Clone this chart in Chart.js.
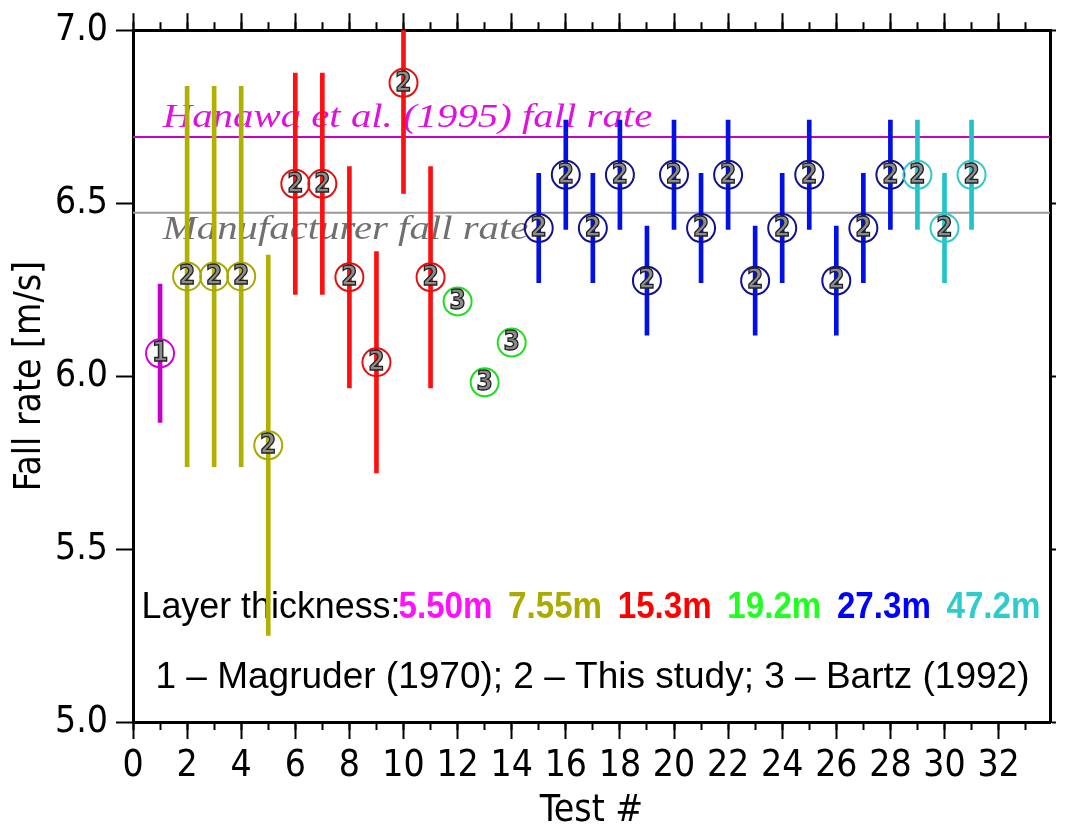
<!DOCTYPE html>
<html>
<head>
<meta charset="utf-8">
<script src="https://cdn.jsdelivr.net/npm/chart.js@4.4.0/dist/chart.umd.min.js"></script>
<style>
  html, body { margin: 0; padding: 0; background: #fff; }
  #wrap { width: 1066px; height: 831px; }
</style>
</head>
<body>
<div id="wrap"><canvas id="fallChart" width="1066" height="831"></canvas></div>
<script>
// Fall rate per test [m/s] with half-length of its error bar
const tests = [1, 2, 3, 4, 5, 6, 7, 8, 9, 10, 11, 12, 13, 14, 15, 16, 17, 18, 19, 20, 21, 22, 23, 24, 25, 26, 27, 28, 29, 30, 31];
const fallRate = [6.066, 6.288, 6.288, 6.288, 5.80, 6.556, 6.556, 6.286, 6.040, 6.848, 6.286, 6.216, 5.982, 6.097,
                  6.428, 6.582, 6.428, 6.582, 6.276, 6.582, 6.428, 6.582, 6.276, 6.428, 6.582, 6.276, 6.428, 6.582,
                  6.582, 6.428, 6.582];
const rateError = [0.20, 0.55, 0.55, 0.55, 0.55, 0.32, 0.32, 0.32, 0.32, 0.32, 0.32, 0, 0, 0,
                   0.158, 0.158, 0.158, 0.158, 0.158, 0.158, 0.158, 0.158, 0.158, 0.158, 0.158, 0.158, 0.158, 0.158,
                   0.158, 0.158, 0.158];
// 1 - Magruder (1970), 2 - this study, 3 - Bartz (1992)
const source = [1, 2, 2, 2, 2, 2, 2, 2, 2, 2, 2, 3, 3, 3, 2, 2, 2, 2, 2, 2, 2, 2, 2, 2, 2, 2, 2, 2, 2, 2, 2];
// layer thickness group of each test
const layerIndex = [0, 1, 1, 1, 1, 2, 2, 2, 2, 2, 2, 3, 3, 3, 4, 4, 4, 4, 4, 4, 4, 4, 4, 4, 4, 4, 4, 4, 5, 5, 5];
const layerThickness = ['5.50m', '7.55m', '15.3m', '19.2m', '27.3m', '47.2m'];
const hanawaRate = 6.691;
const manufacturerRate = 6.472;
const sourceNote = '1 \u2013 Magruder (1970); 2 \u2013 This study; 3 \u2013 Bartz (1992)';

const SANS = "'Liberation Sans Narrow', 'DejaVu Sans Condensed', 'Liberation Sans', sans-serif";
const KEY_SANS = "'Liberation Sans', Arial, sans-serif";
const SERIF = "'Liberation Serif', 'DejaVu Serif', serif";
const barColors = ['#c400cc', '#b0b000', '#ff1010', '#10d010', '#0010e6', '#20c4c8'];
const ringColors = ['#d400dc', '#a8a800', '#e41010', '#20dd20', '#12128f', '#30c8c8'];
const labelColors = ['#ff10ff', '#aaaa00', '#ff0000', '#20ff20', '#0000ff', '#30cccc'];

const withBar = tests.map((t, i) => i).filter(i => rateError[i] > 0);
const errorBars = withBar.map(i => ({ x: tests[i], y: [fallRate[i] - rateError[i], fallRate[i] + rateError[i]] }));
const points = tests.map((t, i) => ({ x: tests[i], y: fallRate[i] }));

const xMax = 33.9;
const fontBig = { family: SANS, size: 37 };

// italic serif captions are wider than the font's natural width
function stretchedText(ctx, text, x, y, color, sx) {
  ctx.save();
  ctx.translate(x, y);
  ctx.scale(sx, 1);
  ctx.font = `italic 34px ${SERIF}`;
  ctx.fillStyle = color;
  ctx.textAlign = 'left';
  ctx.textBaseline = 'alphabetic';
  ctx.fillText(text, 0, 0);
  ctx.restore();
}

// draw text squeezed horizontally into a given width (narrow sans look)
function fitText(ctx, text, x, y, width, font, color) {
  ctx.save();
  ctx.font = font;
  const w = ctx.measureText(text).width;
  ctx.translate(x, y);
  ctx.scale(width / w, 1);
  ctx.fillStyle = color;
  ctx.textAlign = 'left';
  ctx.textBaseline = 'alphabetic';
  ctx.fillText(text, 0, 0);
  ctx.restore();
}

const notes = {
  id: 'notes',
  beforeDatasetsDraw(chart) {
    const { ctx, chartArea, scales: { x, y } } = chart;
    const left = x.getPixelForValue(1.1);
    stretchedText(ctx, 'Hanawa et al. (1995) fall rate', left, y.getPixelForValue(hanawaRate) - 10, '#e010e0', 1.2);
    stretchedText(ctx, 'Manufacturer fall rate', left, y.getPixelForValue(manufacturerRate) + 26, '#707070', 1.2);

    // layer thickness key and source list
    const mid = (chartArea.left + chartArea.right) / 2;
    const row1 = chartArea.bottom - 104;
    const start = mid - 450;
    fitText(ctx, 'Layer thickness:', start, row1, 259, `37px ${KEY_SANS}`, '#000');
    layerThickness.forEach((s, k) => {
      fitText(ctx, s, start + 257 + k * 109.6, row1, 94, `bold 37px ${KEY_SANS}`, labelColors[k]);
    });
    fitText(ctx, sourceNote, mid - 436, chartArea.bottom - 34, 874, `37px ${KEY_SANS}`, '#000');
  },
  afterDatasetsDraw(chart) {
    const { ctx } = chart;
    const meta = chart.getDatasetMeta(0);
    ctx.save();
    ctx.font = `bold 26px ${SANS}`;
    ctx.textAlign = 'center';
    ctx.textBaseline = 'middle';
    ctx.lineWidth = 1.3;
    meta.data.forEach((pt, i) => {
      ctx.fillStyle = '#8c8c8c';
      ctx.strokeStyle = '#222';
      ctx.fillText(String(source[i]), pt.x, pt.y + 1);
      ctx.strokeText(String(source[i]), pt.x, pt.y + 1);
    });
    ctx.restore();
  }
};

const tickGrid = len => ({ drawOnChartArea: false, offset: false, tickLength: len, tickWidth: 2, tickColor: '#000' });
const frame = { display: true, color: '#000', width: 3 };

new Chart(document.getElementById('fallChart'), {
  type: 'bar',
  data: {
    datasets: [
      {
        type: 'scatter',
        data: points,
        order: 1,
        pointStyle: 'circle',
        pointRadius: 14,
        pointHoverRadius: 14,
        pointBorderWidth: 2,
        pointBorderColor: layerIndex.map(k => ringColors[k]),
        pointBackgroundColor: 'rgba(0,0,0,0)'
      },
      {
        type: 'bar',
        data: errorBars,
        order: 2,
        grouped: false,
        barThickness: 4,
        borderWidth: 0,
        backgroundColor: withBar.map(i => barColors[layerIndex[i]])
      },
      {
        type: 'line',
        data: [{ x: 0, y: hanawaRate }, { x: xMax, y: hanawaRate }],
        order: 3,
        borderColor: '#c800c8',
        borderWidth: 2,
        pointRadius: 0
      },
      {
        type: 'line',
        data: [{ x: 0, y: manufacturerRate }, { x: xMax, y: manufacturerRate }],
        order: 3,
        borderColor: '#9a9a9a',
        borderWidth: 2,
        pointRadius: 0
      }
    ]
  },
  options: {
    responsive: false,
    animation: false,
    devicePixelRatio: 1,
    layout: { padding: 0 },
    plugins: { legend: { display: false }, tooltip: { enabled: false } },
    scales: {
      x: {
        type: 'linear', position: 'bottom', min: 0, max: xMax, offset: false, weight: 1,
        afterFit: s => { s.height = 109; },
        ticks: { stepSize: 2, includeBounds: false, maxTicksLimit: 100, autoSkip: false, maxRotation: 0,
                 padding: 5, color: '#000', font: fontBig },
        grid: tickGrid(17),
        border: frame,
        title: { display: true, text: 'Test #', color: '#000', font: { family: SANS, size: 37, lineHeight: 1 },
                 padding: { top: 0, bottom: 1 } }
      },
      xMinor: {
        type: 'linear', position: 'bottom', min: 0, max: xMax, offset: false, weight: 0,
        afterFit: s => { s.height = 0; },
        ticks: { stepSize: 1, includeBounds: false, maxTicksLimit: 100, display: false },
        grid: tickGrid(8),
        border: { display: false }
      },
      xTop: {
        type: 'linear', position: 'top', min: 0, max: xMax, offset: false, weight: 1,
        afterFit: s => { s.height = 29; },
        ticks: { stepSize: 2, includeBounds: false, maxTicksLimit: 100, display: false },
        grid: tickGrid(17),
        border: frame
      },
      xTopMinor: {
        type: 'linear', position: 'top', min: 0, max: xMax, offset: false, weight: 0,
        afterFit: s => { s.height = 0; },
        ticks: { stepSize: 1, includeBounds: false, maxTicksLimit: 100, display: false },
        grid: tickGrid(8),
        border: { display: false }
      },
      y: {
        type: 'linear', position: 'left', min: 5, max: 7,
        afterFit: s => { s.width = 133; },
        ticks: { stepSize: 0.5, padding: 8, color: '#000', font: fontBig, callback: v => v.toFixed(1) },
        grid: tickGrid(17),
        border: frame,
        title: { display: true, text: 'Fall rate [m/s]', color: '#000', font: { family: SANS, size: 37, lineHeight: 1 },
                 padding: { top: 12, bottom: 0 } }
      },
      yRight: {
        type: 'linear', position: 'right', min: 5, max: 7,
        afterFit: s => { s.width = 6; },
        ticks: { stepSize: 0.5, display: false },
        grid: tickGrid(6),
        border: frame
      }
    }
  },
  plugins: [notes]
});
</script>
</body>
</html>
